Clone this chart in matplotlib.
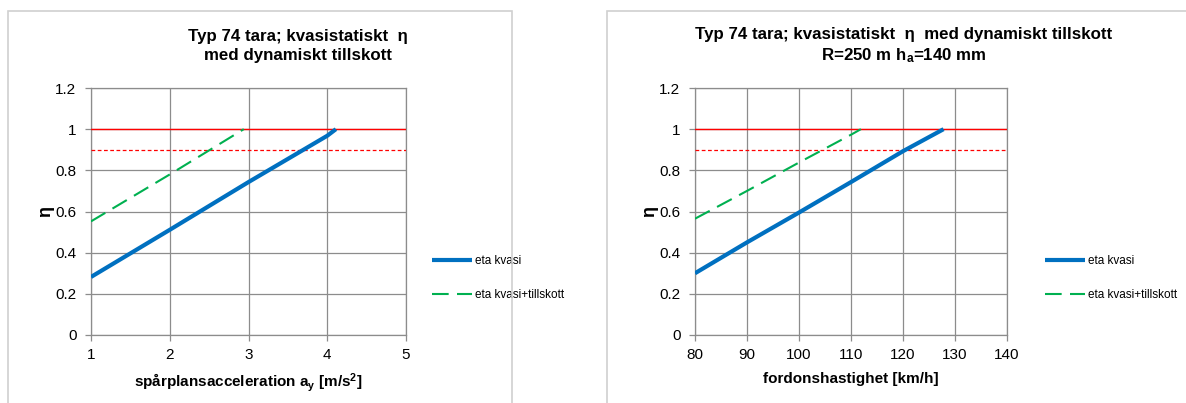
import matplotlib
matplotlib.use("Agg")
import matplotlib.pyplot as plt
from matplotlib.patches import Rectangle

plt.rcParams['font.family'] = ['Liberation Sans', 'DejaVu Sans']
plt.rcParams['mathtext.fontset'] = 'custom'
plt.rcParams['mathtext.rm'] = 'Liberation Sans:bold'
plt.rcParams['mathtext.it'] = 'Liberation Sans:bold'
plt.rcParams['mathtext.bf'] = 'Liberation Sans:bold'

# --- data ---
ay = [1.0, 2.0, 3.0, 4.0, 4.11]
eta_kvasi_a = [0.282, 0.511, 0.743, 0.968, 1.0]
ay_dyn = [1.0, 2.0, 2.94]
eta_dyn_a = [0.552, 0.78, 1.0]

v = [80, 90, 100, 110, 120, 127.8]
eta_kvasi_v = [0.30, 0.45, 0.595, 0.743, 0.893, 1.0]
v_dyn = [80, 90, 100, 110, 111.9]
eta_dyn_v = [0.565, 0.70, 0.838, 0.973, 1.0]

limit = 1.0
limit_warn = 0.9

grid_c = '#8c8c8c'
W, H = 1186, 403
fig = plt.figure(figsize=(W / 100, H / 100), dpi=100)

# chart frames
for x0, x1 in [(8, 512), (607, 1200)]:
    fig.patches.append(Rectangle((x0 / W, -0.1), (x1 - x0) / W, 1.1 - 11 / H,
                                 transform=fig.transFigure, fill=False,
                                 edgecolor='#d0d0d0', linewidth=1.2))


def make_axes(px0, px1, xs, ys, xd, yd, xlim, xticks, xlabel, title, title_x, leg_x):
    ax = fig.add_axes([px0 / W, 1 - 335 / H, (px1 - px0) / W, (335 - 88) / H])
    ax.plot(xs, ys, color='#0070C0', linewidth=3, label='eta kvasi', solid_capstyle='butt', zorder=4)
    ax.plot(xd, yd, color='#00B050', linewidth=1.5, dashes=(8, 4), label='eta kvasi+tillskott', zorder=4)
    ax.axhline(limit, color='#ff0000', linewidth=1, zorder=3)
    ax.axhline(limit_warn, color='#ff0000', linewidth=0.9, dashes=(3, 2), zorder=3)
    ax.set_xlim(*xlim)
    ax.set_ylim(0, 1.2)
    ax.set_xticks(xticks)
    ax.set_yticks([0, 0.2, 0.4, 0.6, 0.8, 1, 1.2])
    ax.set_yticklabels(['0', '0.2', '0.4', '0.6', '0.8', '1', '1.2'])
    ax.grid(True, color=grid_c, linewidth=0.9)
    ax.set_axisbelow(True)
    for s in ax.spines.values():
        s.set_color(grid_c)
        s.set_linewidth(0.9)
    ax.tick_params(colors=grid_c, labelcolor='black', labelsize=11, length=4.5, width=0.9)
    ax.tick_params(axis='y', pad=6)
    ax.tick_params(axis='x', pad=5)
    ax.set_xlabel(xlabel, fontsize=11, fontweight='bold', labelpad=7)
    ax.set_ylabel('η', fontsize=13, fontweight='bold', labelpad=1)
    ax.legend(loc='center left', bbox_to_anchor=(leg_x, 0.231), frameon=False,
              fontsize=8.5, borderpad=0, borderaxespad=0, handlelength=3.4,
              handletextpad=0.25, labelspacing=1.9)
    fig.text(title_x / W, 1 - 46 / H, title, ha='center', va='center',
             multialignment='center', fontsize=12.2, fontweight='bold', linespacing=1.35)
    return ax


make_axes(91, 406, ay, eta_kvasi_a, ay_dyn, eta_dyn_a, (1, 5), [1, 2, 3, 4, 5],
          'spårplansacceleration a$_\\mathrm{y}$ [m/s$^\\mathrm{2}$]',
          'Typ 74 tara; kvasistatiskt  η\nmed dynamiskt tillskott', 298, 1.083)
make_axes(695, 1007, v, eta_kvasi_v, v_dyn, eta_dyn_v, (80, 140),
          [80, 90, 100, 110, 120, 130, 140],
          'fordonshastighet [km/h]',
          'Typ 74 tara; kvasistatiskt  η  med dynamiskt tillskott\nR=250 m h$_\\mathrm{a}$=140 mm', 904, 1.122)

fig.savefig('out.png', dpi=100)
